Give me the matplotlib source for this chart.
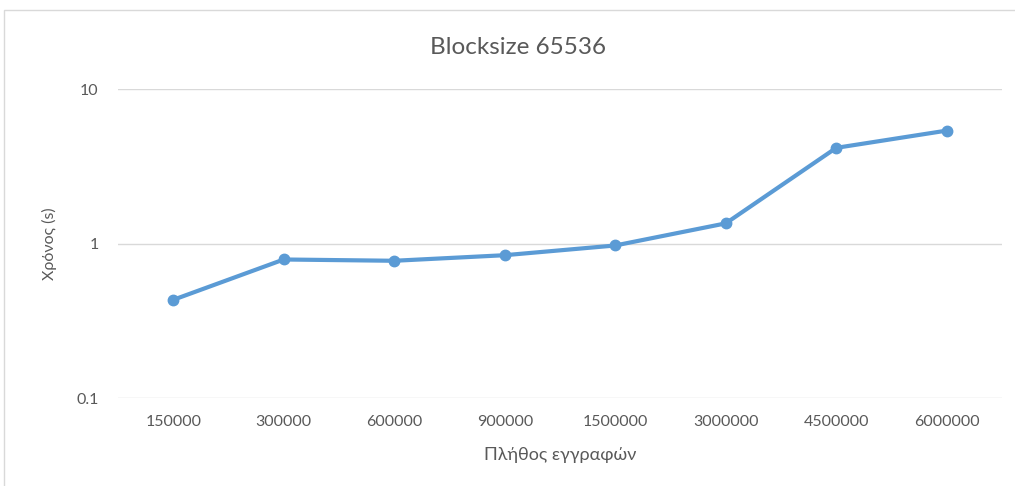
import matplotlib
matplotlib.use('Agg')
import matplotlib.pyplot as plt
import matplotlib.patches as patches
from matplotlib.ticker import FixedLocator, FixedFormatter, NullLocator

plt.rcParams['font.family'] = ['Lato', 'DejaVu Sans']

# Δεδομένα
records = ['150000', '300000', '600000', '900000', '1500000',
           '3000000', '4500000', '6000000']
times = [0.432, 0.788, 0.773, 0.840, 0.971, 1.35, 4.16, 5.38]

text_color = '#595959'
grid_color = '#d9d9d9'
line_color = '#5b9bd5'

fig = plt.figure(figsize=(10.15, 4.86), dpi=100)
ax = fig.add_axes([118 / 1015, 1 - 398 / 486, 884 / 1015, 309 / 486])

# Πλαίσιο γραφήματος
border = patches.Rectangle((4 / 1015, -0.1), 1.2, 1 - 10 / 486 + 0.1,
                           transform=fig.transFigure, fill=False,
                           edgecolor=grid_color, linewidth=1)
fig.patches.append(border)

x = list(range(len(records)))
ax.plot(x, times, color=line_color, linewidth=3, marker='o',
        markersize=7.5, zorder=3)

ax.set_yscale('log')
ax.set_ylim(0.1, 10)
ax.set_xlim(-0.5, len(records) - 0.5)
ax.yaxis.set_major_locator(FixedLocator([0.1, 1, 10]))
ax.yaxis.set_major_formatter(FixedFormatter(['0.1', '1', '10']))
ax.yaxis.set_minor_locator(NullLocator())
ax.set_xticks(x)
ax.set_xticklabels(records)

ax.grid(axis='y', color=grid_color, linewidth=1)
ax.set_axisbelow(True)
for s in ax.spines.values():
    s.set_visible(False)
ax.tick_params(length=0, labelsize=11.5, colors=text_color)
ax.tick_params(axis='x', pad=12)
ax.tick_params(axis='y', pad=14)

# Τίτλος στο κέντρο του πλαισίου
fig.text(518 / 1015, 1 - 47 / 486, 'Blocksize 65536', fontsize=17.5,
         color=text_color, ha='center', va='center')
fig.text(560 / 1015, 1 - 455 / 486, 'Πλήθος εγγραφών', fontsize=13,
         color=text_color, ha='center', va='center')
ax.set_ylabel('Χρόνος (s)', fontsize=11.5, color=text_color, labelpad=14)

fig.savefig('out.png', dpi=100)
